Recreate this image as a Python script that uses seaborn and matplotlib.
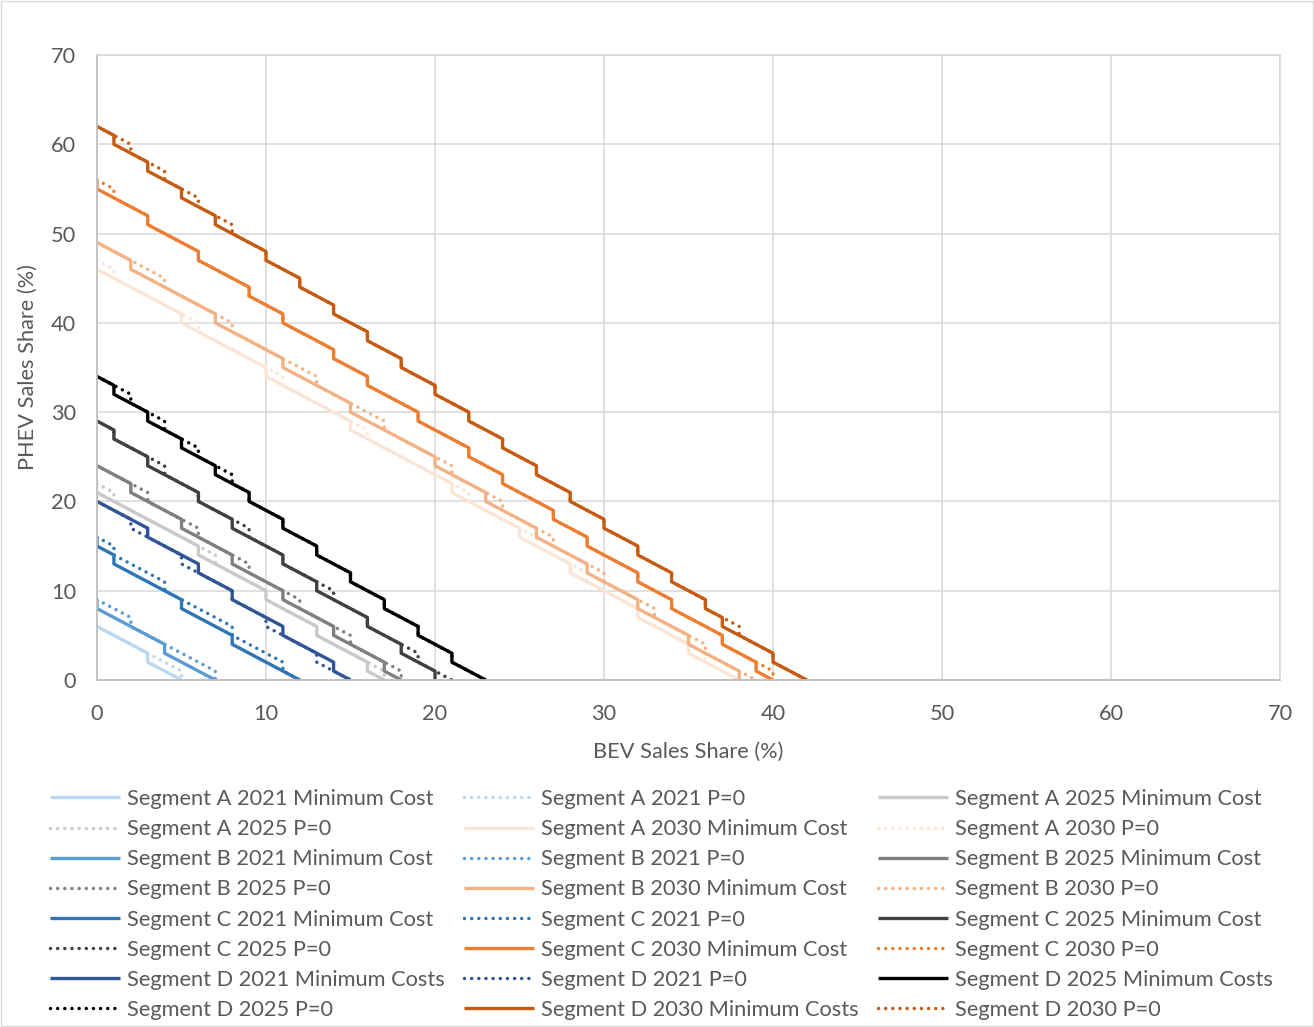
import matplotlib
matplotlib.use("Agg")
import matplotlib.pyplot as plt
import seaborn as sns
import pandas as pd
from matplotlib.patches import Rectangle

# Staircase vertices (BEV share %, PHEV share %)
a21_min = [(0, 6), (3, 3), (3, 2), (5, 0)]
a21_p0 = [(0, 6), (3, 3), (5, 1), (5, 0)]
a25_min = [(0, 21), (6, 15), (6, 14), (10, 10), (10, 9), (13, 6), (13, 5), (16, 2), (16, 1), (17, 0)]
a25_p0 = [(0, 22), (1, 21), (1, 20), (6, 15), (7, 14), (7, 13), (10, 10), (10, 9), (13, 6), (13, 5),
          (16, 2), (17, 1), (17, 0)]
a30_min = [(0, 46), (5, 41), (5, 40), (10, 35), (10, 34), (15, 29), (15, 28), (21, 22), (21, 21),
           (25, 17), (25, 16), (28, 13), (28, 12), (32, 8), (32, 7), (35, 4), (35, 3), (38, 0)]
a30_p0 = [(0, 47), (1, 46), (1, 45), (5, 41), (6, 40), (6, 39), (10, 35), (11, 34), (11, 33), (15, 29),
          (16, 28), (16, 27), (21, 22), (22, 21), (22, 20), (25, 17), (26, 16), (26, 15), (28, 13),
          (29, 12), (29, 11), (32, 8), (33, 7), (33, 6), (35, 4), (36, 3), (36, 2), (38, 0)]

b21_min = [(0, 9), (0, 8), (4, 4), (4, 3), (7, 0)]
b21_p0 = [(0, 9), (2, 7), (2, 6), (4, 4), (7, 1), (7, 0)]
b25_min = [(0, 24), (2, 22), (2, 21), (5, 18), (5, 17), (8, 14), (8, 13), (11, 10), (11, 9), (14, 6),
           (14, 5), (17, 2), (17, 1), (18, 0)]
b25_p0 = [(0, 24), (2, 22), (3, 21), (3, 20), (5, 18), (6, 17), (6, 16), (8, 14), (9, 13), (9, 12),
          (11, 10), (12, 9), (12, 8), (14, 6), (15, 5), (15, 4), (17, 2), (18, 1), (18, 0)]
b30_min = [(0, 49), (2, 47), (2, 46), (7, 41), (7, 40), (11, 36), (11, 35), (15, 31), (15, 30), (20, 25),
           (20, 24), (23, 21), (23, 20), (26, 17), (26, 16), (29, 13), (29, 12), (32, 9), (32, 8),
           (35, 5), (35, 4), (38, 1), (38, 0)]
b30_p0 = [(0, 49), (2, 47), (4, 45), (4, 44), (7, 41), (8, 40), (8, 39), (11, 36), (13, 34), (13, 33),
          (15, 31), (17, 29), (17, 28), (20, 25), (21, 24), (21, 23), (23, 21), (24, 20), (24, 19),
          (26, 17), (27, 16), (27, 15), (29, 13), (30, 12), (30, 11), (32, 9), (33, 8), (33, 7),
          (35, 5), (36, 4), (36, 3), (38, 1), (39, 0)]

c21_min = [(0, 16), (0, 15), (1, 14), (1, 13), (5, 9), (5, 8), (8, 5), (8, 4), (12, 0)]
c21_p0 = [(0, 16), (1, 15), (1, 14), (4, 11), (4, 10), (5, 9), (8, 6), (8, 5), (11, 2), (11, 1), (12, 0)]
c25_min = [(0, 29), (1, 28), (1, 27), (3, 25), (3, 24), (6, 21), (6, 20), (8, 18), (8, 17), (11, 14),
           (11, 13), (13, 11), (13, 10), (16, 7), (16, 6), (18, 4), (18, 3), (20, 1), (20, 0)]
c25_p0 = [(0, 29), (1, 28), (1, 27), (3, 25), (4, 24), (4, 23), (6, 21), (6, 20), (8, 18), (9, 17),
          (9, 16), (11, 14), (11, 13), (13, 11), (14, 10), (14, 9), (16, 7), (16, 6), (18, 4),
          (19, 3), (19, 2), (21, 0)]
c30_min = [(0, 56), (0, 55), (3, 52), (3, 51), (6, 48), (6, 47), (9, 44), (9, 43), (11, 41), (11, 40),
           (14, 37), (14, 36), (16, 34), (16, 33), (19, 30), (19, 29), (22, 26), (22, 25), (24, 23),
           (24, 22), (27, 19), (27, 18), (29, 16), (29, 15), (32, 12), (32, 11), (34, 9), (34, 8),
           (37, 5), (37, 4), (39, 2), (39, 1), (40, 0)]
c30_p0 = [(0, 56), (1, 55), (1, 54), (3, 52), (3, 51), (6, 48), (6, 47), (9, 44), (9, 43), (11, 41),
          (11, 40), (14, 37), (14, 36), (16, 34), (16, 33), (19, 30), (19, 29), (22, 26), (22, 25),
          (24, 23), (24, 22), (27, 19), (27, 18), (29, 16), (29, 15), (32, 12), (32, 11), (34, 9),
          (34, 8), (37, 5), (37, 4), (39, 2), (40, 1), (40, 0)]

d21_min = [(0, 20), (3, 17), (3, 16), (6, 13), (6, 12), (8, 10), (8, 9), (11, 6), (11, 5), (14, 2),
           (14, 1), (15, 0)]
d21_p0 = [(0, 20), (2, 18), (2, 17), (3, 16), (5, 14), (5, 13), (6, 12), (8, 10), (8, 9), (10, 7),
          (10, 6), (11, 5), (13, 3), (13, 2), (14, 1), (15, 0)]
d25_min = [(0, 34), (1, 33), (1, 32), (3, 30), (3, 29), (5, 27), (5, 26), (7, 24), (7, 23), (9, 21),
           (9, 20), (11, 18), (11, 17), (13, 15), (13, 14), (15, 12), (15, 11), (17, 9), (17, 8),
           (19, 6), (19, 5), (21, 3), (21, 2), (23, 0)]
d25_p0 = [(0, 34), (1, 33), (2, 32), (2, 31), (3, 30), (4, 29), (4, 28), (5, 27), (6, 26), (6, 25),
          (7, 24), (8, 23), (8, 22), (9, 21), (9, 20), (11, 18), (11, 17), (13, 15), (13, 14),
          (15, 12), (15, 11), (17, 9), (17, 8), (19, 6), (19, 5), (21, 3), (21, 2), (23, 0)]
d30_min = [(0, 62), (1, 61), (1, 60), (3, 58), (3, 57), (5, 55), (5, 54), (7, 52), (7, 51), (10, 48),
           (10, 47), (12, 45), (12, 44), (14, 42), (14, 41), (16, 39), (16, 38), (18, 36), (18, 35),
           (20, 33), (20, 32), (22, 30), (22, 29), (24, 27), (24, 26), (26, 24), (26, 23), (28, 21),
           (28, 20), (30, 18), (30, 17), (32, 15), (32, 14), (34, 12), (34, 11), (36, 9), (36, 8),
           (37, 7), (37, 6), (40, 3), (40, 2), (42, 0)]
d30_p0 = [(0, 62), (1, 61), (2, 60), (2, 59), (3, 58), (4, 57), (4, 56), (5, 55), (6, 54), (6, 53),
          (7, 52), (8, 51), (8, 50), (10, 48), (10, 47), (12, 45), (12, 44), (14, 42), (14, 41),
          (16, 39), (16, 38), (18, 36), (18, 35), (20, 33), (20, 32), (22, 30), (22, 29), (24, 27),
          (24, 26), (26, 24), (26, 23), (28, 21), (28, 20), (30, 18), (30, 17), (32, 15), (32, 14),
          (34, 12), (34, 11), (36, 9), (36, 8), (37, 7), (38, 6), (38, 5), (40, 3), (40, 2), (42, 0)]

series = [a21_min, a21_p0, a25_min, a25_p0, a30_min, a30_p0,
          b21_min, b21_p0, b25_min, b25_p0, b30_min, b30_p0,
          c21_min, c21_p0, c25_min, c25_p0, c30_min, c30_p0,
          d21_min, d21_p0, d25_min, d25_p0, d30_min, d30_p0]

labels = []
for seg in ["A", "B", "C", "D"]:
    suffix = "Minimum Costs" if seg == "D" else "Minimum Cost"
    for year in ["2021", "2025", "2030"]:
        labels.append(f"Segment {seg} {year} {suffix}")
        labels.append(f"Segment {seg} {year} P=0")

colors = ["#BDD7EE", "#BDD7EE", "#C9C9C9", "#C9C9C9", "#FBE5D6", "#FBE5D6",
          "#5B9BD5", "#5B9BD5", "#7F7F7F", "#7F7F7F", "#F4B183", "#F4B183",
          "#2E75B6", "#2E75B6", "#404040", "#404040", "#ED7D31", "#ED7D31",
          "#2F5597", "#2F5597", "#000000", "#000000", "#C55A11", "#C55A11"]

text_col = "#595959"
fs = 15.7

sns.set_style("white")
plt.rcParams["font.family"] = ["Lato", "DejaVu Sans"]

fig = plt.figure(figsize=(13.14, 10.27), dpi=100)
ax = fig.add_axes([97 / 1314, 1 - 680 / 1027, 1183 / 1314, 625 / 1027])

for lab, pts, col in zip(labels, series, colors):
    df = pd.DataFrame(pts, columns=["bev", "phev"])
    if lab.endswith("P=0"):
        sns.lineplot(data=df, x="bev", y="phev", sort=False, estimator=None, color=col, ax=ax,
                     label=lab, legend=False, linewidth=2.5, linestyle=(0, (0.01, 2.05)),
                     dash_capstyle="round")
    else:
        sns.lineplot(data=df, x="bev", y="phev", sort=False, estimator=None, color=col, ax=ax,
                     label=lab, legend=False, linewidth=2.4, solid_capstyle="butt")

ax.set_xlim(0, 70)
ax.set_ylim(0, 70)
ax.set_xticks(range(0, 71, 10))
ax.set_yticks(range(0, 71, 10))
ax.set_axisbelow(True)
ax.grid(True, color="#D9D9D9", linewidth=1.1)
for side in ["top", "right"]:
    ax.spines[side].set_color("#D9D9D9")
    ax.spines[side].set_linewidth(1.1)
for side in ["left", "bottom"]:
    ax.spines[side].set_color("#BFBFBF")
    ax.spines[side].set_linewidth(1.3)
ax.tick_params(length=0, labelsize=fs, colors=text_col)
ax.tick_params(axis="y", pad=15)
ax.tick_params(axis="x", pad=17)

ax.set_xlabel("BEV Sales Share (%)", fontsize=fs, color=text_col)
ax.set_ylabel("PHEV Sales Share (%)", fontsize=fs, color=text_col)
ax.xaxis.set_label_coords(0.5, (680 - 752) / 625)
ax.xaxis.label.set_va("center")
ax.yaxis.set_label_coords((28 - 97) / 1183, 0.5)
ax.yaxis.label.set_va("center")

# Excel fills the legend row by row
handles, labs = ax.get_legend_handles_labels()
nrow = len(handles) // 3
order = [r * 3 + c for c in range(3) for r in range(nrow)]
fig.legend([handles[i] for i in order], [labs[i] for i in order], ncol=3,
           loc="upper left", bbox_to_anchor=(50 / 1314, 1 - 789 / 1027),
           frameon=False, fontsize=fs, labelcolor=text_col,
           handlelength=3.2, handletextpad=0.32, columnspacing=0.9,
           labelspacing=0.465, borderpad=0, borderaxespad=0)

fig.patches.append(Rectangle((0.0005, 0.0005), 0.999, 0.999, transform=fig.transFigure,
                             fill=False, edgecolor="#D9D9D9", linewidth=1))

fig.savefig("out.png", dpi=100)
